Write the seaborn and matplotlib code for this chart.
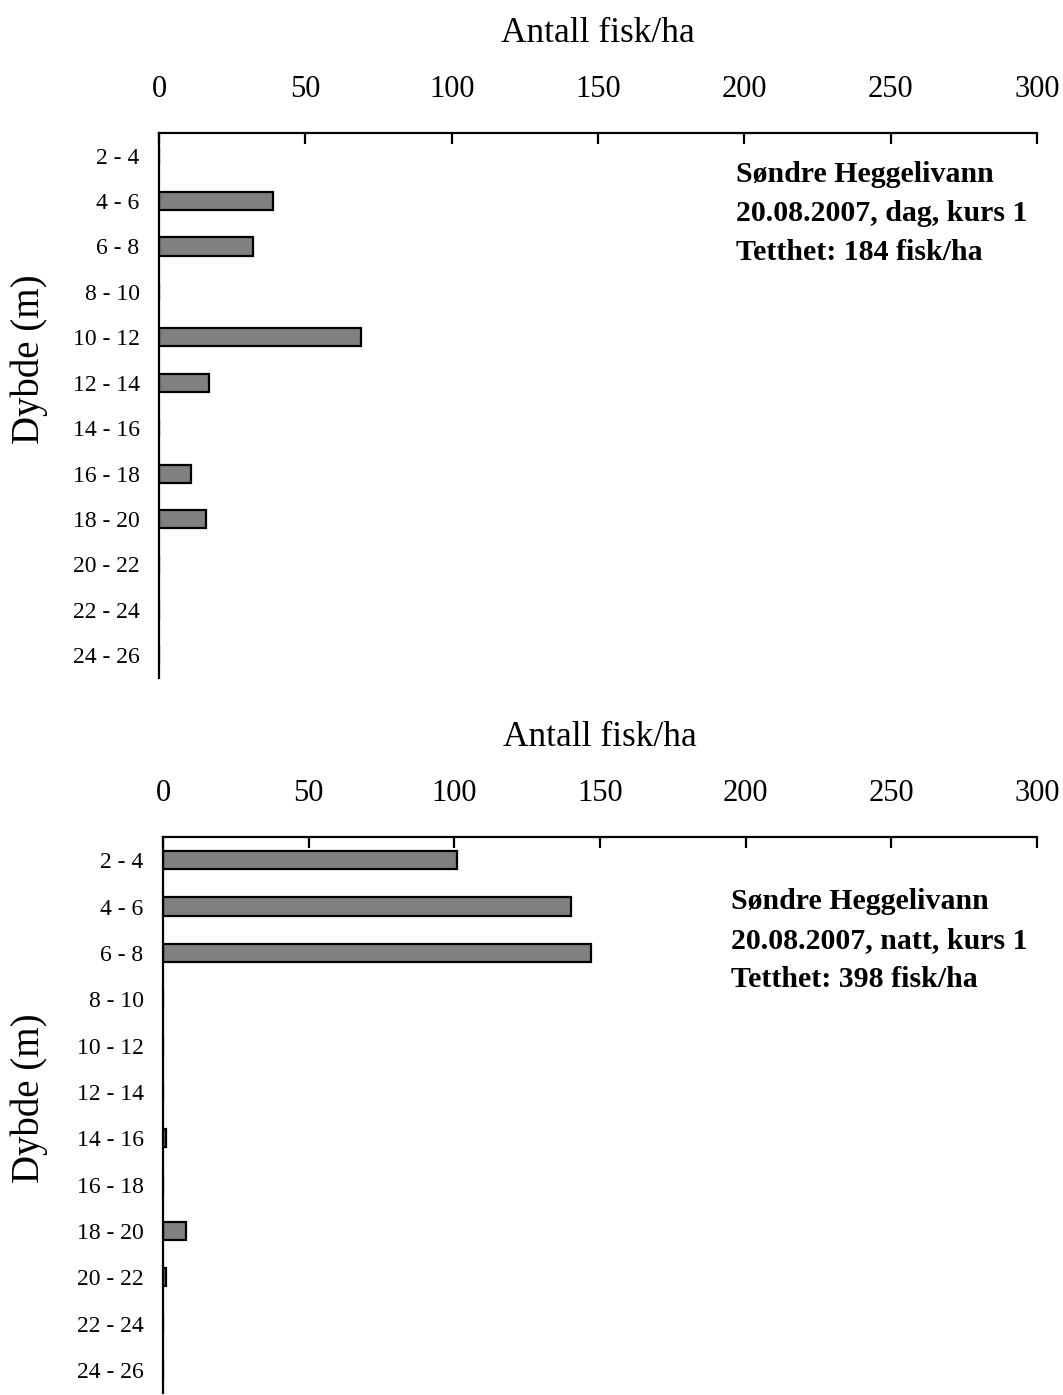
import matplotlib
matplotlib.use("Agg")
import matplotlib.pyplot as plt
import seaborn as sns
import pandas as pd

# Depth intervals (m)
depths = ["2 - 4", "4 - 6", "6 - 8", "8 - 10", "10 - 12", "12 - 14",
          "14 - 16", "16 - 18", "18 - 20", "20 - 22", "22 - 24", "24 - 26"]

# Fish density per depth interval (fish/ha)
day_values = [0, 39, 32, 0, 69, 17, 0, 11, 16, 0, 0, 0]
night_values = [101, 140, 147, 0, 0, 0, 1, 0, 8, 1, 0, 0]

x_ticks = [0, 50, 100, 150, 200, 250, 300]

day_label = "Søndre Heggelivann\n20.08.2007, dag, kurs 1\nTetthet: 184 fisk/ha"
night_label = "Søndre Heggelivann\n20.08.2007, natt, kurs 1\nTetthet: 398 fisk/ha"

sns.set_theme(style="white")
plt.rcParams["font.family"] = ["Liberation Serif", "DejaVu Serif"]
plt.rcParams["text.color"] = "black"
plt.rcParams["axes.labelcolor"] = "black"

fig = plt.figure(figsize=(10.63, 13.95), dpi=100)
ax_top = fig.add_axes([0.1496, 0.5140, 0.8259, 0.3907])
ax_bot = fig.add_axes([0.1533, 0.0014, 0.8222, 0.3986])


def draw_panel(ax, values, label, text_xy, ylabel_xy):
    df = pd.DataFrame({"Dybde": depths, "Antall": values})
    sns.barplot(data=df, x="Antall", y="Dybde", orient="h", color="#808080",
                saturation=1, edgecolor="black", linewidth=1.6, width=0.4, ax=ax)
    ax.set_xlim(0, 300)
    ax.set_xticks(x_ticks)
    ax.xaxis.tick_top()
    ax.xaxis.set_label_position("top")
    ax.set_xlabel("Antall fisk/ha", fontsize=25.5, labelpad=23.5, color="black")
    ax.set_ylabel("Dybde (m)", fontsize=28, color="black")
    ax.yaxis.set_label_coords(*ylabel_xy)
    ax.tick_params(axis="x", direction="in", length=8, width=1.6,
                   labelsize=22, pad=21, colors="black")
    ax.tick_params(axis="y", length=0, labelsize=17, pad=14, colors="black")
    for side in ("right", "bottom"):
        ax.spines[side].set_visible(False)
    for side in ("top", "left"):
        ax.spines[side].set_linewidth(1.6)
        ax.spines[side].set_color("black")
    ax.text(text_xy[0], text_xy[1], label, transform=ax.transAxes,
            fontsize=21.5, fontweight="bold", va="top", ha="left",
            linespacing=1.57, color="black")


draw_panel(ax_top, day_values, day_label, (0.657, 0.949), (-0.126, 0.585))
draw_panel(ax_bot, night_values, night_label, (0.650, 0.908), (-0.131, 0.530))

fig.savefig("out.png", dpi=100)
